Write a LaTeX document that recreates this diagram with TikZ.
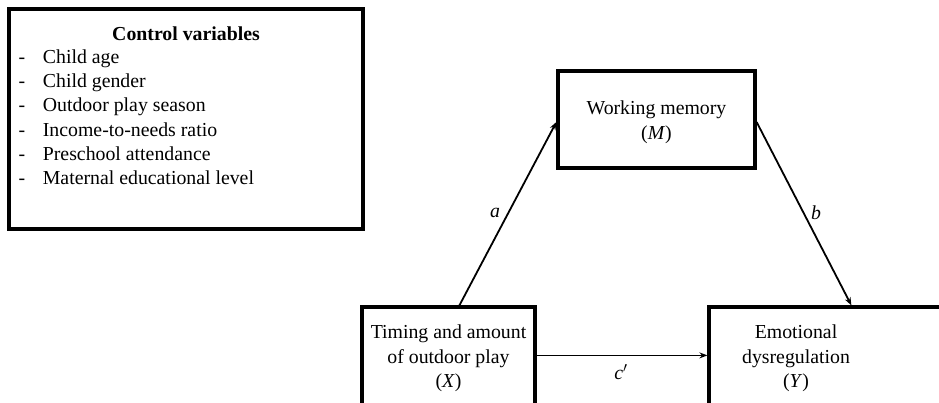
\documentclass[tikz,border=0pt]{standalone}
\usepackage{fontspec}
\setmainfont{Liberation Serif}
\usetikzlibrary{arrows.meta,calc}
\tikzset{
  box/.style={draw=black, line width=3.2pt, rectangle, inner sep=0pt, fill=white},
  txt/.style={inner sep=0pt, align=center, font=\fontsize{19.8}{24.6}\selectfont},
  lbl/.style={inner sep=0pt, font=\fontsize{19.8}{24}\selectfont\itshape},
  conn/.style={line width=1.8pt, -{Stealth[length=8pt,width=6pt]}}
}
\begin{document}
\begin{tikzpicture}[x=1pt,y=-1pt]
\useasboundingbox (0,0) rectangle (939,403);
\clip (0,0) rectangle (939,403);
\fill[white] (0,0) rectangle (939,403);
% control variables box
\node[box, minimum width=354pt, minimum height=220pt] (ctrl) at (186,119) {};
\node[txt, anchor=base] (ctitle) at (186,40.7) {\textbf{Control variables}};
\foreach \t [count=\i] in {Child age, Child gender, Outdoor play season, Income-to-needs ratio, Preschool attendance, Maternal educational level}
  \node[txt, anchor=base west] (item\i) at (18.5, {63.3+24.3*(\i-1)}) {\makebox[24.2pt][l]{-}\t};
% mediator
\node[box, minimum width=197pt, minimum height=97pt] (M) at (656.5,119.5) {};
\node[txt] (Mt) at (656.5,122) {Working memory\\(\textit{M})};
% X
\node[box, minimum width=173pt, minimum height=130pt] (X) at (448.5,372) {};
\node[txt] (Xt) at (448.5,358.5) {Timing and amount\\of outdoor play\\(\textit{X})};
% Y
\node[box, minimum width=251pt, minimum height=130pt] (Y) at (834.5,372) {};
\node[txt] (Yt) at (796,358.5) {Emotional\\dysregulation\\(\textit{Y})};
% connectors
\draw[conn] ($(X.north west)+(99,0)$) -- ($(M.west)+(0,2.5)$);
\draw[conn] ($(M.east)+(0,2.5)$) -- ($(Y.north west)+(144,0)$);
\draw[conn] ($(X.north west)+(173,50)$) -- ($(Y.north west)+(0,50)$);
\node[lbl] (la) at (495,213) {a};
\node[lbl] (lb) at (816,213) {b};
\node[lbl] (lc) at (621,372) {c$'$};
\end{tikzpicture}
\end{document}
